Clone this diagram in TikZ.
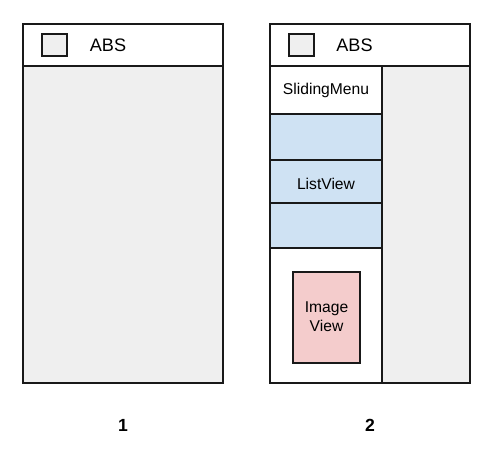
\documentclass[tikz,border=0pt]{standalone}
\usepackage{fontspec}
\setmainfont{Liberation Sans}
\usepackage{tikz}
\definecolor{screengray}{HTML}{EFEFEF}
\definecolor{listblue}{HTML}{CFE2F3}
\definecolor{imagepink}{HTML}{F4CCCC}
\tikzset{panel/.style={draw=black!90,line width=1.1pt,fill=#1},
         panel/.default=white,
         smalltext/.style={font=\fontsize{8.9}{10.8}\selectfont,align=center},
         bartext/.style={font=\fontsize{10.3}{12}\selectfont}}

\begin{document}
\begin{tikzpicture}[x=0.02cm,y=-0.02cm]
\useasboundingbox (0,0) rectangle (494,451);

%% first screen
\draw[panel=screengray] (23,24) rectangle (223,383);
\draw[panel] (23,24) rectangle (223,66);
\draw[panel=screengray] (42,34) rectangle (67,56);
\node[bartext] (abs1) at (108,45) {ABS};
\node[font=\bfseries\fontsize{10}{12}\selectfont] (num1) at (123,425) {1};

%% second screen, menu slid out
\draw[panel=screengray] (270,24) rectangle (470,383);
\draw[panel] (270,24) rectangle (470,66);
\draw[panel=screengray] (289,34) rectangle (314,56);
\node[bartext] (abs2) at (354.5,45) {ABS};
\draw[panel] (270,66) rectangle (382,383);
\node[smalltext] (menu) at (326,90) {SlidingMenu};
\foreach \top/\bot in {114/160,160/203,203/248}
  \draw[panel=listblue] (270,\top) rectangle (382,\bot);
\node[smalltext] (list) at (326,184) {ListView};
\draw[panel=imagepink] (293,272) rectangle (360,363);
\node[smalltext] (image) at (326.5,317) {Image\\View};
\node[font=\bfseries\fontsize{10}{12}\selectfont] (num2) at (370,425) {2};

\end{tikzpicture}
\end{document}
